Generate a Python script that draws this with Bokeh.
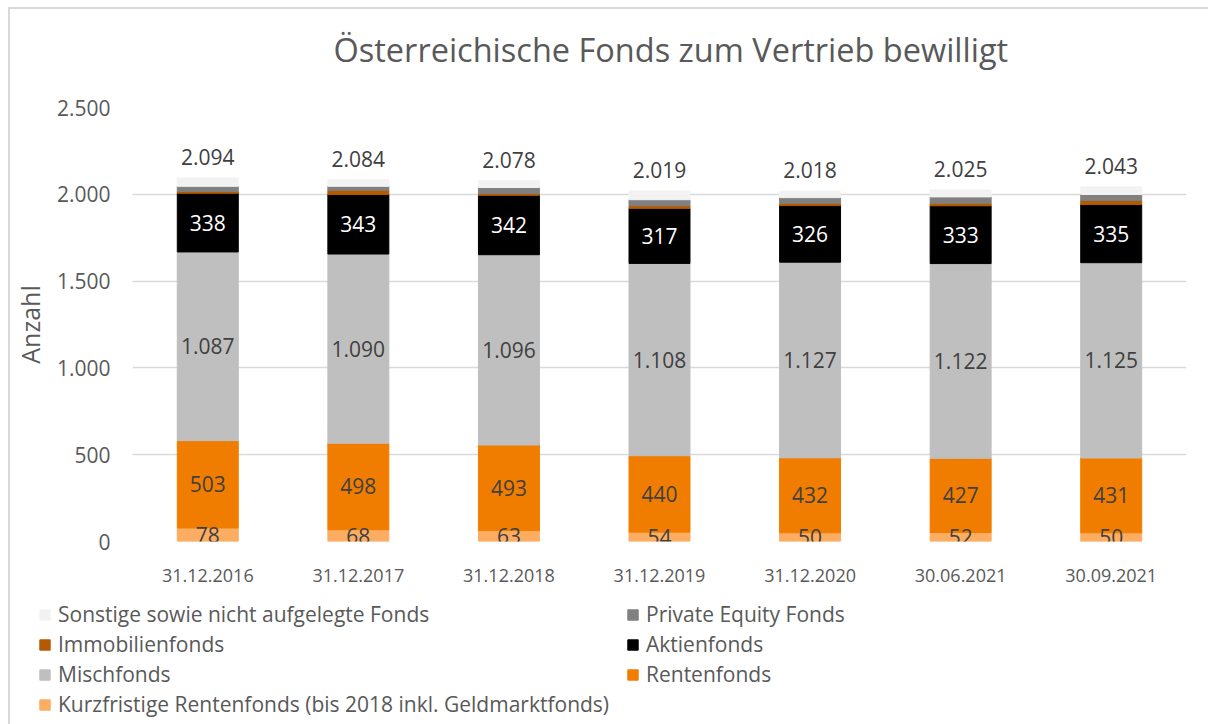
from bokeh.plotting import figure
from bokeh.layouts import column
from bokeh.models import (FactorRange, Range1d, ColumnDataSource, LabelSet, Legend,
                          LegendItem, FixedTicker, CustomJSTickFormatter)
from bokeh.core.properties import value
from bokeh.embed import file_html
from bokeh.resources import INLINE

categories = ["31.12.2016", "31.12.2017", "31.12.2018", "31.12.2019",
              "31.12.2020", "30.06.2021", "30.09.2021"]
kurzfristige = [78, 68, 63, 54, 50, 52, 50]
rentenfonds = [503, 498, 493, 440, 432, 427, 431]
mischfonds = [1087, 1090, 1096, 1108, 1127, 1122, 1125]
aktienfonds = [338, 343, 342, 317, 326, 333, 335]
immobilienfonds = [10, 24, 10, 15, 13, 15, 23]
private_equity = [30, 23, 35, 35, 33, 36, 35]
sonstige = [48, 38, 39, 50, 37, 40, 44]
totals = [2094, 2084, 2078, 2019, 2018, 2025, 2043]

series_names = ["Kurzfristige Rentenfonds (bis 2018 inkl. Geldmarktfonds)", "Rentenfonds",
                "Mischfonds", "Aktienfonds", "Immobilienfonds", "Private Equity Fonds",
                "Sonstige sowie nicht aufgelegte Fonds"]
series_keys = ["kurz", "renten", "misch", "aktien", "immo", "pe", "sonst"]
series_values = [kurzfristige, rentenfonds, mischfonds, aktienfonds, immobilienfonds,
                 private_equity, sonstige]
colors = ["#fdad62", "#f07d00", "#bfbfbf", "#000000", "#b45a00", "#808080", "#f2f2f2"]

FONT = "Open Sans"
TXT = "#595959"
LBL = "#404040"


def de(v):
    return f"{v:,}".replace(",", ".")


data = {"cat": categories}
for k, vals in zip(series_keys, series_values):
    data[k] = vals
source = ColumnDataSource(data)

p = figure(x_range=FactorRange(*categories), y_range=Range1d(0, 2500),
           width=1208, height=596, output_backend="svg", toolbar_location=None,
           min_border_left=132, min_border_right=22, min_border_top=107,
           min_border_bottom=55,
           title="Österreichische Fonds zum Vertrieb bewilligt")

renderers = p.vbar_stack(series_keys, x="cat", width=0.405, color=colors, source=source)

# segment labels
label_rows = {"x": [], "y": [], "text": [], "color": []}
for i, cat in enumerate(categories):
    base = 0
    for s, vals in enumerate(series_values[:4]):
        v = vals[i]
        label_rows["x"].append(cat)
        label_rows["y"].append(base + v / 2)
        label_rows["text"].append(de(v))
        label_rows["color"].append("#ffffff" if s == 3 else LBL)
        base += v
lab_src = ColumnDataSource(label_rows)
p.add_layout(LabelSet(x="x", y="y", text="text", source=lab_src, text_align="center",
                      text_baseline="middle", text_color="color", text_font=value(FONT),
                      text_font_size=value("21px")))

tot_src = ColumnDataSource({"x": categories, "y": totals, "text": [de(t) for t in totals]})
p.add_layout(LabelSet(x="x", y="y", text="text", source=tot_src, text_align="center",
                      text_baseline="middle", y_offset=21, text_color=LBL,
                      text_font=value(FONT), text_font_size=value("21px")))

# title
p.title.text_font = FONT
p.title.text_font_size = "32.5px"
p.title.text_font_style = "normal"
p.title.text_color = TXT
p.title.align = "left"
p.title.offset = 201
try:
    p.title.padding = dict(top=0, right=0, bottom=31, left=0)
except Exception:
    p.title.standoff = 40

# axes
p.xaxis.axis_line_color = None
p.xaxis.major_tick_line_color = None
p.xaxis.major_tick_out = 0
p.xaxis.major_label_standoff = 27
p.xaxis.major_label_text_font = FONT
p.xaxis.major_label_text_font_size = "18px"
p.xaxis.major_label_text_color = TXT

p.yaxis.axis_line_color = None
p.yaxis.major_tick_line_color = None
p.yaxis.minor_tick_line_color = None
p.yaxis.major_tick_out = 0
p.yaxis.major_label_standoff = 22
p.yaxis.ticker = FixedTicker(ticks=[0, 500, 1000, 1500, 2000, 2500])
p.yaxis.formatter = CustomJSTickFormatter(code="""
const t = Math.round(tick);
if (t >= 1000) { return Math.floor(t/1000) + '.' + String(t % 1000).padStart(3, '0'); }
return String(t);
""")
p.yaxis.major_label_text_font = FONT
p.yaxis.major_label_text_font_size = "21px"
p.yaxis.major_label_text_color = TXT
p.yaxis.axis_label = "Anzahl"
p.yaxis.axis_label_text_font = FONT
p.yaxis.axis_label_text_font_size = "25px"
p.yaxis.axis_label_text_font_style = "normal"
p.yaxis.axis_label_text_color = TXT
p.yaxis.axis_label_standoff = 7

p.xgrid.grid_line_color = None
p.ygrid.grid_line_color = "#d9d9d9"
p.ygrid.grid_line_width = 1.5
p.outline_line_color = None
p.border_fill_alpha = 0

# legend panel below the chart: same stacked series, drawn outside its visible range
lg = figure(width=1208, height=128, output_backend="svg", toolbar_location=None,
            x_range=FactorRange(*categories), y_range=Range1d(5000, 5001),
            x_axis_location=None, y_axis_location=None,
            min_border_left=38, min_border_right=0, min_border_top=4, min_border_bottom=0)
try:
    lg.frame_align = False
except Exception:
    pass
lg.grid.grid_line_color = None
lg.outline_line_color = None
lg.border_fill_alpha = 0
lg.background_fill_alpha = 0
swatches = lg.vbar_stack(series_keys, x="cat", width=0.405, color=colors, source=source)

order = [6, 4, 2, 0, 5, 3, 1]
items = [LegendItem(label=series_names[i], renderers=[swatches[i]]) for i in order]
legend = Legend(items=items, ncols=2, orientation="vertical", location="top_left",
                glyph_width=13, glyph_height=13, label_standoff=7, spacing=2,
                label_width=566, padding=0, margin=0, border_line_color=None,
                background_fill_alpha=0, label_text_font=FONT,
                label_text_font_size="21px", label_text_color=TXT)
lg.add_layout(legend, "center")

layout = column(p, lg, spacing=0)
layout.styles = {
    "background": "linear-gradient(#d9d9d9, #d9d9d9) 8px 7px / 1200px 2px no-repeat, "
                  "linear-gradient(#d9d9d9, #d9d9d9) 8px 7px / 2px 717px no-repeat, #ffffff"
}
open("out.html", "w").write(file_html(layout, INLINE))
